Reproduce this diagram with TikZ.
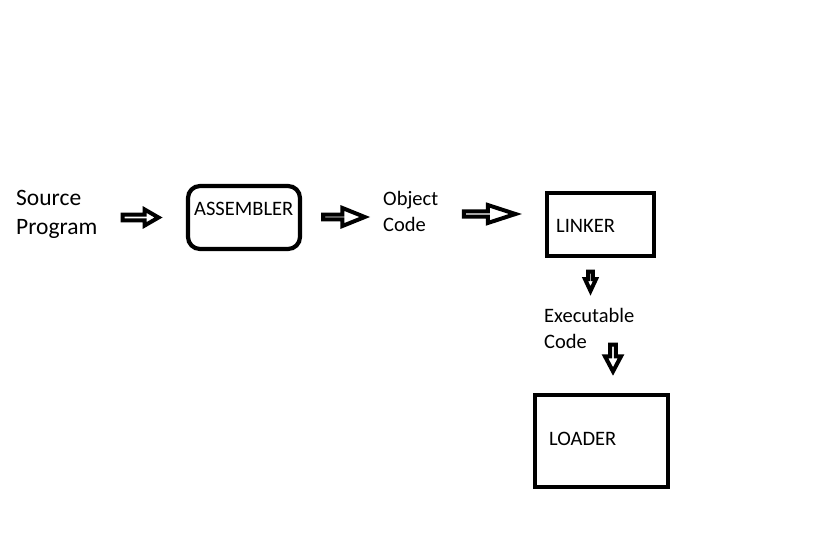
\documentclass[tikz,border=0pt]{standalone}
\usepackage{fontspec}
\setmainfont{Carlito}
\usetikzlibrary{shapes.arrows}
\tikzset{
  lbl/.style={inner sep=0pt, anchor=base west, font=\fontsize{20.5}{26}\selectfont},
  biglbl/.style={inner sep=0pt, anchor=base west, font=\fontsize{23.5}{29}\selectfont},
  boxx/.style={draw, line width=4.2pt, inner sep=0pt},
  blk/.style={draw, single arrow, line width=4pt, inner sep=0pt, miter limit=10, line join=miter},
}
\begin{document}
\begin{tikzpicture}[x=1pt,y=-1pt]
\useasboundingbox (0,0) rectangle (819,536);
% texts
\node[biglbl] (src1) at (16,205) {Source};
\node[biglbl] (src2) at (16,234) {Program};
\node[lbl] (obj1) at (383,205) {Object};
\node[lbl] (obj2) at (383,231) {Code};
\node[lbl] (exe1) at (544,322) {Executable};
\node[lbl] (exe2) at (544,348) {Code};
% boxes
\draw[boxx, rounded corners=12pt] (188,186) rectangle (300,249);
\node[boxx, minimum width=107pt, minimum height=63pt] (linker) at (600.5,224.5) {};
\node[boxx, minimum width=133pt, minimum height=92pt] (loader) at (601.5,441) {};
\node[lbl] (asm) at (194,215) {ASSEMBLER};
\node[lbl] (lnk) at (556,232) {LINKER};
\node[lbl] (ldr) at (549,445) {LOADER};
% block arrows
\node[blk, minimum height=36pt, minimum width=16pt, single arrow head extend=3.5pt, single arrow tip angle=60] (a1) at (138,217.5) {};
\node[blk, minimum height=41.7pt, minimum width=18pt, single arrow head extend=5.5pt, single arrow tip angle=44] (a2) at (340.9,217) {};
\node[blk, minimum height=51.5pt, minimum width=18pt, single arrow head extend=5pt, single arrow tip angle=36] (a3) at (485.75,214) {};
\node[blk, rotate=-90, minimum height=19.3pt, minimum width=11pt, single arrow head extend=2.5pt, single arrow tip angle=50] (a4) at (590.5,278.65) {};
\node[blk, rotate=-90, minimum height=26.7pt, minimum width=16pt, single arrow head extend=3.5pt, single arrow tip angle=56] (a5) at (613,355.35) {};
\end{tikzpicture}
\end{document}
